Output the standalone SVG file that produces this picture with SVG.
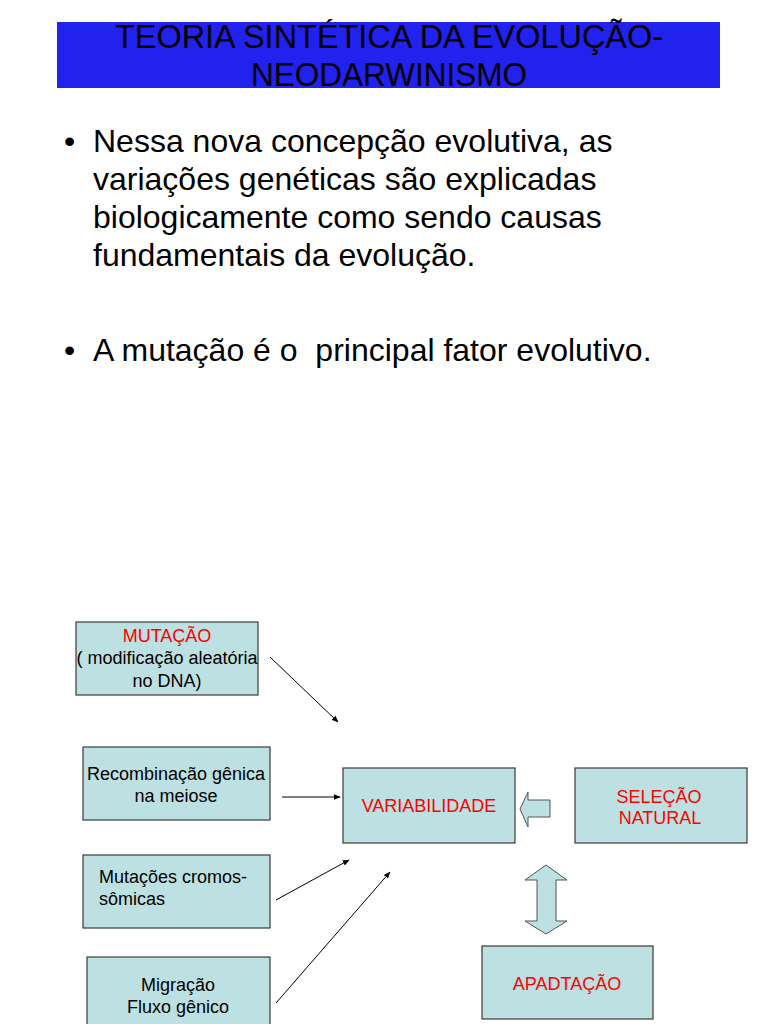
<svg xmlns="http://www.w3.org/2000/svg" width="768" height="1024" viewBox="0 0 768 1024">
<defs>
<style>
.box{fill:#bde0e2;stroke:#3a3a3a;stroke-width:1.2}
.t{font-family:"Liberation Sans",Arial,sans-serif;font-size:18px;fill:#000}
.r{fill:#ff0000}
.c{text-anchor:middle}
.b{font-family:"Liberation Sans",Arial,sans-serif;font-size:32px;fill:#000;white-space:pre}
.ttl{font-family:"Liberation Sans",Arial,sans-serif;font-size:33px;fill:#000;text-anchor:middle}
.ln{stroke:#000;stroke-width:1;fill:none;marker-end:url(#ah)}
.blk{fill:#bde0e2;stroke:#555;stroke-width:1}
</style>
<marker id="ah" viewBox="0 0 10 10" refX="9" refY="5" markerWidth="7" markerHeight="7" orient="auto" markerUnits="userSpaceOnUse">
<path d="M0,1 L10,5 L0,9 Z" fill="#000"/>
</marker>
</defs>
<rect width="768" height="1024" fill="#fff"/>
<g id="title">
<rect x="57" y="22" width="663" height="66" fill="#2222ee"/>
<text class="ttl" x="389" y="48" textLength="548" lengthAdjust="spacingAndGlyphs">TEORIA SINTÉTICA DA EVOLUÇÃO-</text>
<text class="ttl" x="389" y="86" textLength="276" lengthAdjust="spacingAndGlyphs">NEODARWINISMO</text>
</g>
<g id="bullets">
<text class="b" x="64" y="152">•</text>
<text class="b" x="93" y="152">Nessa nova concepção evolutiva, as</text>
<text class="b" x="93" y="190">variações genéticas são explicadas</text>
<text class="b" x="93" y="228">biologicamente como sendo causas</text>
<text class="b" x="93" y="266">fundamentais da evolução.</text>
<text class="b" x="64" y="361">•</text>
<text class="b" x="93" y="361" xml:space="preserve">A mutação é o  principal fator evolutivo.</text>
</g>
<g id="connectors">
<line class="ln" x1="270" y1="657" x2="338" y2="722"/>
<line class="ln" x1="282" y1="797" x2="340" y2="797"/>
<line class="ln" x1="276" y1="900" x2="349" y2="860"/>
<line class="ln" x1="276" y1="1003" x2="390" y2="872"/>
<path class="blk" d="M520,809 L528,792 L528,800 L550,800 L550,817 L528,817 L528,827 Z"/>
<path class="blk" d="M546,865 L567,880 L556,880 L556,921 L567,921 L546,934 L525,921 L537,921 L537,880 L525,880 Z"/>
</g>
<g id="mutacao">
<rect class="box" x="76" y="622" width="182" height="73"/>
<text class="t c r" x="167" y="642">MUTAÇÃO</text>
<text class="t c" x="167" y="664">( modificação aleatória</text>
<text class="t c" x="167" y="687">no DNA)</text>
</g>
<g id="recombinacao">
<rect class="box" x="83" y="747" width="187" height="73"/>
<text class="t c" x="176" y="780">Recombinação gênica</text>
<text class="t c" x="176" y="802">na meiose</text>
</g>
<g id="cromossomicas">
<rect class="box" x="83" y="855" width="187" height="73"/>
<text class="t" x="99" y="883">Mutações cromos-</text>
<text class="t" x="99" y="905">sômicas</text>
</g>
<g id="migracao">
<rect class="box" x="87" y="957" width="183" height="73"/>
<text class="t c" x="178" y="991">Migração</text>
<text class="t c" x="178" y="1013">Fluxo gênico</text>
</g>
<g id="variabilidade">
<rect class="box" x="343" y="768" width="172" height="75"/>
<text class="t c r" x="429" y="812">VARIABILIDADE</text>
</g>
<g id="selecao">
<rect class="box" x="575" y="768" width="172" height="75"/>
<text class="t c r" x="659" y="803">SELEÇÃO</text>
<text class="t c r" x="660" y="824">NATURAL</text>
</g>
<g id="adaptacao">
<rect class="box" x="482" y="946" width="171" height="73"/>
<text class="t c r" x="567" y="990">APADTAÇÃO</text>
</g>
</svg>
